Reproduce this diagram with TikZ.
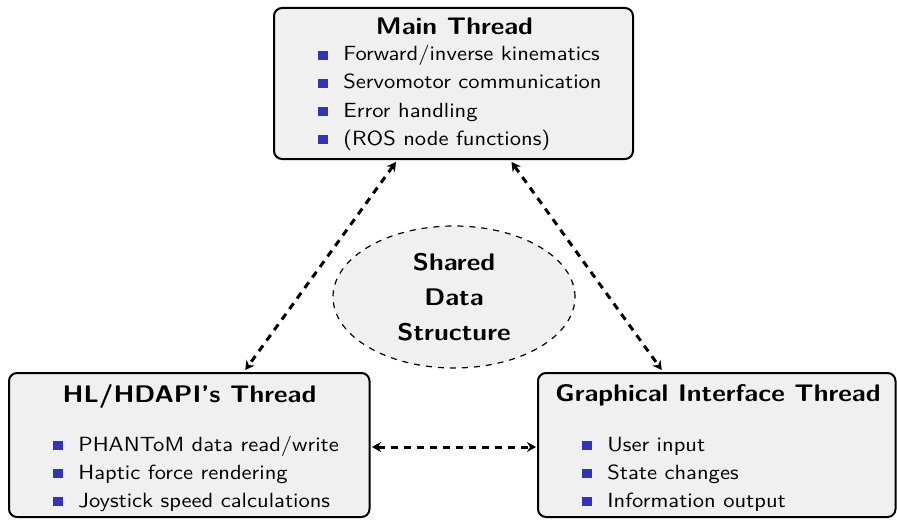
\documentclass[tikz,border=0pt]{standalone}
\usepackage{graphicx}
\usetikzlibrary{shapes.geometric,arrows.meta,calc}
\definecolor{boxfill}{HTML}{F0F0F0}
\definecolor{bul}{HTML}{3333B3}
\newcommand{\bsq}{\textcolor{bul}{\rule[0.3pt]{4.55pt}{4.5pt}}\hspace{6.8pt}}
\newcommand{\wide}[1]{\scalebox{1.1}[1]{#1}}
\begin{document}
\begin{tikzpicture}[x=0.5pt,y=-0.5pt,
 box/.style={draw=black, line width=1pt, fill=boxfill, rounded corners=4pt, rectangle, inner sep=0},
 title/.style={font=\sffamily\bfseries\large, anchor=base, inner sep=0},
 item/.style={font=\sffamily\fontsize{10.25pt}{12pt}\selectfont, anchor=base west, inner sep=0},
 shared/.style={ellipse, draw, dashed, line width=0.6pt, fill=boxfill, minimum width=121pt, minimum height=71pt, inner sep=0, align=center, font=\sffamily\bfseries\large},
 conn/.style={line width=1.5pt, dash pattern=on 3.5pt off 3pt, {Stealth[length=4.5pt,width=5pt]}-{Stealth[length=4.5pt,width=5pt]}}]
\useasboundingbox (0,0) rectangle (897,519);

\node[box, minimum width=179.5pt, minimum height=75.5pt] (main) at (453.5,83.5) {};
\node[box, minimum width=180.25pt, minimum height=72pt] (hl) at (189.25,445) {};
\node[box, minimum width=178.75pt, minimum height=72pt] (gi) at (716.75,445) {};
\node[shared] (sds) at (454,297) {\wide{Shared}\\[3.5pt]\wide{Data}\\[3.5pt]\wide{Structure}};

\node[title] (mt) at (454.5,35) {\wide{Main Thread}};
\node[title] (ht) at (189.5,402) {\wide{HL/HDAPI's Thread}};
\node[title] (gt) at (718,401) {\wide{Graphical Interface Thread}};

\node[item] (m1) at (318,61) {\wide{\bsq Forward/inverse kinematics}};
\node[item] (m2) at (318,89) {\wide{\bsq Servomotor communication}};
\node[item] (m3) at (318,117) {\wide{\bsq Error handling}};
\node[item] (m4) at (318,145) {\wide{\bsq (ROS node functions)}};

\node[item] (h1) at (53,451) {\wide{\bsq PHANToM data read/write}};
\node[item] (h2) at (53,479) {\wide{\bsq Haptic force rendering}};
\node[item] (h3) at (53,507) {\wide{\bsq Joystick speed calculations}};

\node[item] (g1) at (582,451) {\wide{\bsq User input}};
\node[item] (g2) at (582,479) {\wide{\bsq State changes}};
\node[item] (g3) at (582,507) {\wide{\bsq Information output}};

\draw[conn] ($(main.south)+(-57.5,2)$) -- ($(hl.north)+(56,-2)$);
\draw[conn] ($(main.south)+(58,2)$) -- ($(gi.north)+(-55,-2)$);
\draw[conn] ($(hl.east)+(1.5,2)$) -- ($(gi.west)+(-1,2)$);
\end{tikzpicture}
\end{document}
